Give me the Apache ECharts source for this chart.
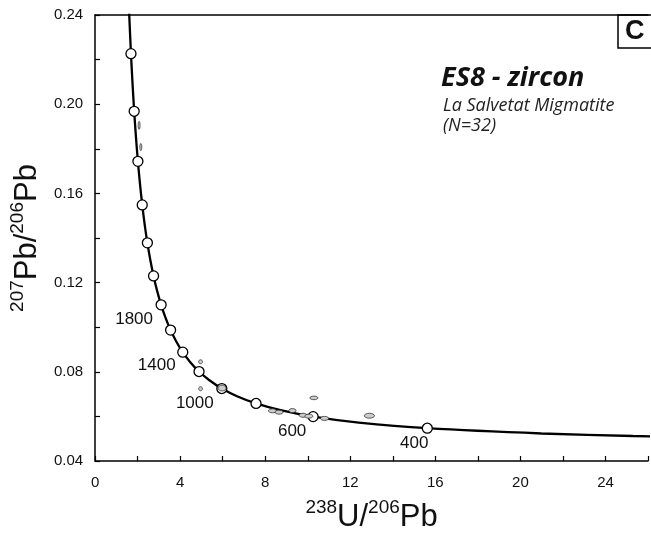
<!DOCTYPE html>
<html>
<head>
<meta charset="utf-8">
<script src="https://cdn.jsdelivr.net/npm/echarts@6/dist/echarts.min.js"></script>
<style>
html, body { margin: 0; padding: 0; background: #fff; }
#chart { width: 651px; height: 538px; }
</style>
</head>
<body>
<div id="chart"></div>
<script>
// concordia (Ma) : 238U/206Pb , 207Pb/206Pb
var concAge = [200, 250, 300, 400, 500, 600, 700, 800, 900, 1000, 1100, 1200, 1300, 1400, 1500, 1600,
               1700, 1800, 1900, 2000, 2100, 2200, 2300, 2400, 2500, 2600, 2700, 2800, 2900, 3000, 3100, 3200];
var concX = [31.735, 25.289, 20.992, 15.621, 12.399, 10.252, 8.718, 7.568, 6.674, 5.959, 5.375, 4.888, 4.476, 4.123, 3.817, 3.550,
             3.314, 3.105, 2.917, 2.749, 2.597, 2.459, 2.332, 2.217, 2.111, 2.013, 1.922, 1.838, 1.760, 1.687, 1.619, 1.556];
var concY = [0.05011, 0.05120, 0.05233, 0.05470, 0.05722, 0.05990, 0.06276, 0.06580, 0.06904, 0.07250, 0.07619, 0.08012, 0.08432, 0.08881, 0.09360, 0.09872,
             0.10419, 0.11004, 0.11629, 0.12299, 0.13015, 0.13782, 0.14604, 0.15483, 0.16426, 0.17437, 0.18520, 0.19682, 0.20928, 0.22266, 0.23701, 0.25241];

// age ticks on the curve and the ones that are written
var markAges = [400, 600, 800, 1000, 1200, 1400, 1600, 1800, 2000, 2200, 2400, 2600, 2800, 3000];
var labelAges = [1800, 1400, 1000, 600, 400];

// analyses: centre and half error (ellipse)
var spotX  = [2.07, 2.15, 4.96, 4.96, 5.97, 8.34, 8.65, 9.28, 9.78, 10.29, 10.05, 10.79, 12.90];
var spotY  = [0.1905, 0.1808, 0.0845, 0.0724, 0.0727, 0.0625, 0.0619, 0.0626, 0.0605, 0.0683, 0.0601, 0.0591, 0.0603];
var spotSx = [0.045, 0.045, 0.09, 0.09, 0.19, 0.19, 0.19, 0.17, 0.19, 0.19, 0.19, 0.19, 0.24];
var spotSy = [0.0018, 0.0016, 0.0009, 0.0009, 0.0013, 0.0009, 0.0009, 0.0009, 0.0009, 0.0008, 0.0009, 0.0009, 0.0011];

var xTicks = [0, 4, 8, 12, 16, 20, 24];
var yTicks = [0.04, 0.08, 0.12, 0.16, 0.20, 0.24];

var FONT = 'Liberation Sans';
var chart = echarts.init(document.getElementById('chart'), null, { renderer: 'canvas' });

var curveData = concX.map(function (x, i) { return [x, concY[i]]; });

// label offsets (px) next to the age circles
var labelOffset = { 1800: [-27, 15], 1400: [-26, 13], 1000: [-27, 15], 600: [-21, 15], 400: [-13, 15] };

var markData = markAges.map(function (a) {
    var i = concAge.indexOf(a);
    var item = { value: [concX[i], concY[i]], name: String(a) };
    if (labelAges.indexOf(a) >= 0) {
        item.label = { show: true, position: 'inside', offset: labelOffset[a], formatter: String(a) };
    }
    return item;
});

var spotData = spotX.map(function (x, i) { return [x, spotY[i], spotSx[i] * 2, spotSy[i] * 2]; });

var rich = {
    b: { fontFamily: FONT, fontSize: 31, color: '#111', lineHeight: 35, verticalAlign: 'bottom' },
    s: { fontFamily: FONT, fontSize: 19, color: '#111', lineHeight: 20, verticalAlign: 'top' }
};

var option = {
    animation: false,
    backgroundColor: '#fff',
    grid: { left: 95, right: 0, top: 15, bottom: 74 },
    xAxis: [{
        type: 'value', min: 0, max: 26, interval: 2,
        name: '{s|238}{b|U/}{s|206}{b|Pb}',
        nameLocation: 'middle', nameGap: 37,
        nameTextStyle: { rich: rich },
        axisLine: { show: true, onZero: false, lineStyle: { color: '#000', width: 1.5 } },
        axisTick: { show: true, inside: true, length: 5, lineStyle: { color: '#000', width: 1.2 } },
        axisLabel: {
            margin: 14, fontFamily: FONT, fontSize: 15, color: '#111',
            formatter: function (v) { return xTicks.indexOf(v) >= 0 ? String(v) : ''; }
        },
        splitLine: { show: false }
    }, {
        type: 'value', min: 0, max: 26, position: 'top',
        axisLine: { show: true, onZero: false, lineStyle: { color: '#000', width: 1.5 } },
        axisTick: { show: false }, axisLabel: { show: false }, splitLine: { show: false }
    }],
    yAxis: {
        type: 'value', min: 0.04, max: 0.24, interval: 0.02,
        name: '{s|207}{b|Pb/}{s|206}{b|Pb}',
        nameLocation: 'middle', nameGap: 46,
        nameTextStyle: { rich: rich },
        axisLine: { show: true, onZero: false, lineStyle: { color: '#000', width: 1.5 } },
        axisTick: { show: true, inside: true, length: 5, lineStyle: { color: '#000', width: 1.2 } },
        axisLabel: {
            margin: 12, fontFamily: FONT, fontSize: 15, color: '#111',
            formatter: function (v) {
                var hit = yTicks.some(function (t) { return Math.abs(t - v) < 1e-6; });
                return hit ? v.toFixed(2) : '';
            }
        },
        splitLine: { show: false }
    },
    series: [{
        type: 'line',
        data: curveData,
        smooth: 0.3,
        showSymbol: false,
        clip: true,
        lineStyle: { color: '#000', width: 2.3 },
        z: 2
    }, {
        type: 'scatter',
        data: markData,
        symbol: 'circle',
        symbolSize: 10,
        itemStyle: { color: '#fff', borderColor: '#000', borderWidth: 1.3, opacity: 1 },
        label: { show: false, fontFamily: FONT, fontSize: 17, color: '#111' },
        z: 3
    }, {
        type: 'custom',
        data: spotData,
        z: 4,
        renderItem: function (params, api) {
            var c = api.coord([api.value(0), api.value(1)]);
            var s = api.size([api.value(2), api.value(3)]);
            return {
                type: 'ellipse',
                shape: { cx: c[0], cy: c[1], rx: s[0] / 2, ry: s[1] / 2 },
                style: { fill: '#cccccc', stroke: '#333', lineWidth: 0.8 }
            };
        }
    }],
    graphic: [
        { type: 'text', left: 441, top: 65, style: { text: 'ES8 - zircon', font: 'italic bold 27px "Open Sans"', fill: '#111' } },
        { type: 'text', left: 443, top: 97, style: { text: 'La Salvetat Migmatite', font: 'italic 18px "Open Sans"', fill: '#222' } },
        { type: 'text', left: 443, top: 117, style: { text: '(N=32)', font: 'italic 18px "Open Sans"', fill: '#222' } },
        { type: 'rect', shape: { x: 618, y: 15, width: 40, height: 33 }, style: { fill: 'none', stroke: '#000', lineWidth: 1.5 } },
        { type: 'text', left: 625, top: 18, style: { text: 'C', font: 'bold 27px "Liberation Sans"', fill: '#111' } }
    ]
};

chart.setOption(option);
</script>
</body>
</html>
